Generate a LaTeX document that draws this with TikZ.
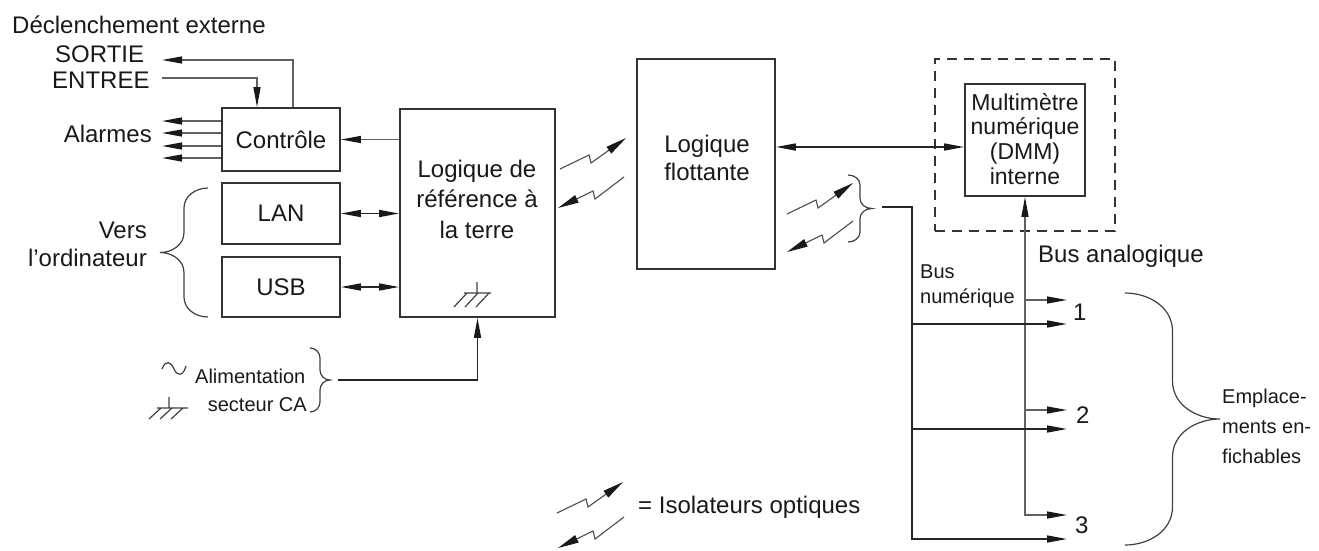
\documentclass[tikz,border=0pt]{standalone}
\usepackage{fontspec}
\setmainfont{Liberation Sans}
\usetikzlibrary{arrows.meta}
\newcommand\rbrc[5]{% x0, ytop, ybottom, amplitude, curl
  \draw[brc] (#1,#2) to[out=0,in=90] ({#1+#4/2},{#2+#5}) -- ({#1+#4/2},{(#2+#3)/2-#5})
    to[out=-90,in=180] ({#1+#4},{(#2+#3)/2}) to[out=180,in=90] ({#1+#4/2},{(#2+#3)/2+#5})
    -- ({#1+#4/2},{#3-#5}) to[out=-90,in=0] (#1,#3);}
\newcommand\lbrc[5]{%
  \draw[brc] (#1,#2) to[out=180,in=90] ({#1-#4/2},{#2+#5}) -- ({#1-#4/2},{(#2+#3)/2-#5})
    to[out=-90,in=0] ({#1-#4},{(#2+#3)/2}) to[out=0,in=90] ({#1-#4/2},{(#2+#3)/2+#5})
    -- ({#1-#4/2},{#3-#5}) to[out=-90,in=180] (#1,#3);}
\tikzset{
  box/.style={draw=black!80, line width=1.8pt, inner sep=0pt, font=\fontsize{24}{28}\selectfont, text=black!90},
  lbl/.style={inner sep=0pt, font=\fontsize{24}{28}\selectfont, text=black!90},
  slbl/.style={inner sep=0pt, font=\fontsize{20}{24}\selectfont, text=black!90},
  dlbl/.style={inner sep=0pt, font=\fontsize{23}{27}\selectfont, text=black!90},
  conn/.style={draw=black!85, line width=1.5pt},
  gconn/.style={draw=black!62, line width=1.3pt},
  brc/.style={draw=black!75, line width=1.2pt},
  sym/.style={draw=black!75, line width=1.2pt},
  iso/.style={draw=black!70, line width=1.1pt},
  isoA/.pic={\draw[iso,-{Triangle[length=21pt,width=8pt,color=black!90]}] (0,0) -- (29,-14) -- (31,-6) -- (66,-31);},
  isoB/.pic={\draw[iso,{Triangle[length=21pt,width=8pt,color=black!90]}-] (0,0) -- (35,-17) -- (37,-9) -- (66,-31);}
}
\begin{document}
\begin{tikzpicture}[x=1pt,y=-1pt, >={Triangle[length=20pt,width=7pt,color=black!90]}]
\useasboundingbox (0,0) rectangle (1319,550);

% boxes
\node[box, minimum width=118pt, minimum height=63pt] (ctrl) at (281,139.5) {Contrôle};
\node[box, minimum width=118pt, minimum height=61pt] (lan) at (281,213.5) {LAN};
\node[box, minimum width=118pt, minimum height=60pt] (usb) at (281,287) {USB};
\node[box, minimum width=155pt, minimum height=208pt] (gnd) at (477.5,213) {};
\node[box, minimum width=138pt, minimum height=210pt] (flot) at (706,164) {};
\node[box, minimum width=120pt, minimum height=112pt] (dmm) at (1025,140) {};
\node[draw=black!80, line width=1.5pt, dash pattern=on 10pt off 7pt, minimum width=180pt, minimum height=172pt] (shield) at (1025,145) {};

% box texts
\node[lbl, anchor=base] (g1) at (477,177) {Logique de};
\node[lbl, anchor=base] (g2) at (477,207) {référence à};
\node[lbl, anchor=base] (g3) at (477,238) {la terre};
\node[lbl, anchor=base] (f1) at (707,152) {Logique};
\node[lbl, anchor=base] (f2) at (707,180) {flottante};
\node[dlbl, anchor=base] (d1) at (1025,110) {Multimètre};
\node[dlbl, anchor=base] (d2) at (1025,134.5) {numérique};
\node[dlbl, anchor=base] (d3) at (1025,159) {(DMM)};
\node[dlbl, anchor=base] (d4) at (1025,184) {interne};

% labels
\node[lbl, anchor=base west] (decl) at (12,33) {Déclenchement externe};
\node[lbl, anchor=base west] (sortie) at (55,62) {SORTIE};
\node[lbl, anchor=base west] (entree) at (52,88) {ENTREE};
\node[lbl, anchor=base east] (alarmes) at (152,142) {Alarmes};
\node[lbl, anchor=base east] (vers1) at (147,238) {Vers};
\node[lbl, anchor=base east] (vers2) at (147,266) {l’ordinateur};
\node[slbl, anchor=base west] (alim1) at (195,383) {Alimentation};
\node[slbl, anchor=base east] (alim2) at (307,411) {secteur CA};
\node[lbl, anchor=base west] (busa) at (1038,262) {Bus analogique};
\node[slbl, anchor=base west] (busn1) at (920,278) {Bus};
\node[slbl, anchor=base west] (busn2) at (920,303) {numérique};
\node[lbl, anchor=base west] (n1) at (1073,320) {1};
\node[lbl, anchor=base west] (n2) at (1076,423) {2};
\node[lbl, anchor=base west] (n3) at (1075,533) {3};
\node[slbl, anchor=base west] (e1) at (1222,403) {Emplace-};
\node[slbl, anchor=base west] (e2) at (1222,433) {ments en-};
\node[slbl, anchor=base west] (e3) at (1222,463) {fichables};
\node[lbl, anchor=base west] (legend) at (638,513) {= Isolateurs optiques};

% free-end coordinates
\coordinate (sortieEnd) at (162,60);
\coordinate (entreeStart) at (162,78);
\coordinate (al1) at (162,121);
\coordinate (al2) at (162,133);
\coordinate (al3) at (162,146);
\coordinate (al4) at (162,158);
\coordinate (pwr) at (338,380);
\coordinate (fd) at (0,147);
\coordinate (slot1a) at (1067,300);
\coordinate (slot2a) at (1067,410);
\coordinate (slot3a) at (1067,515);
\coordinate (dbus) at (882,207);
\coordinate (dcorner) at (912,207);
\coordinate (slot1d) at (1067,324);
\coordinate (slot2d) at (1067,429);
\coordinate (slot3d) at (1067,539);

% trigger lines
\draw[gconn,->] ([xshift=12pt]ctrl.north) |- (sortieEnd);
\draw[gconn,->] (entreeStart) -| ([xshift=-24pt]ctrl.north);
% alarms
\foreach \a in {al1,al2,al3,al4} \draw[gconn,->] (\a -| ctrl.west) -- (\a);
% ground logic to control
\draw[gconn,->] (gnd.west |- ctrl.east) -- (ctrl.east);
% LAN / USB
\draw[conn,<->] (lan.east) -- (lan.east -| gnd.west);
\draw[conn,<->] (usb.east) -- (usb.east -| gnd.west);
% power
\draw[conn,->] (pwr) -| (gnd.south);
% floating to DMM
\draw[conn,<->] (flot.east |- fd) -- (dmm.west |- fd);
% analog bus
\draw[gconn,<->] (slot3a) -| (dmm.south);
\draw[gconn,->] (slot1a -| dmm.south) -- (slot1a);
\draw[gconn,->] (slot2a -| dmm.south) -- (slot2a);
% digital bus
\draw[conn,->] (dbus) -- (dcorner) |- (slot3d);
\draw[conn,->] (slot1d -| dcorner) -- (slot1d);
\draw[conn,->] (slot2d -| dcorner) -- (slot2d);

% optical isolators
\pic at (560,169) {isoA};
\pic at (558,208) {isoB};
\pic at (787,214) {isoA};
\pic at (787,252) {isoB};
\pic at (557,513) {isoA};
\pic at (558,548) {isoB};

% braces
\lbrc{208}{188}{317}{48}{20}
\rbrc{310}{348}{412}{20}{10}
\rbrc{848}{175}{242}{24}{10}
\rbrc{1125}{293}{545}{95}{38}

% ground symbols
\draw[sym] (477,282) -- (477,293) (464,293) -- (491,293)
  (467,293) -- (454,307) (478,293) -- (465,307) (489,293) -- (476,307);
\draw[sym] (169,397) -- (169,408) (157,408) -- (188,408)
  (161,408) -- (149,419) (172,408) -- (160,419) (183,408) -- (171,419);
% mains tilde
\draw[sym] (162,369) .. controls (166,359) and (171,362) .. (174,369)
  .. controls (177,376) and (183,377) .. (186,366);
\end{tikzpicture}
\end{document}
